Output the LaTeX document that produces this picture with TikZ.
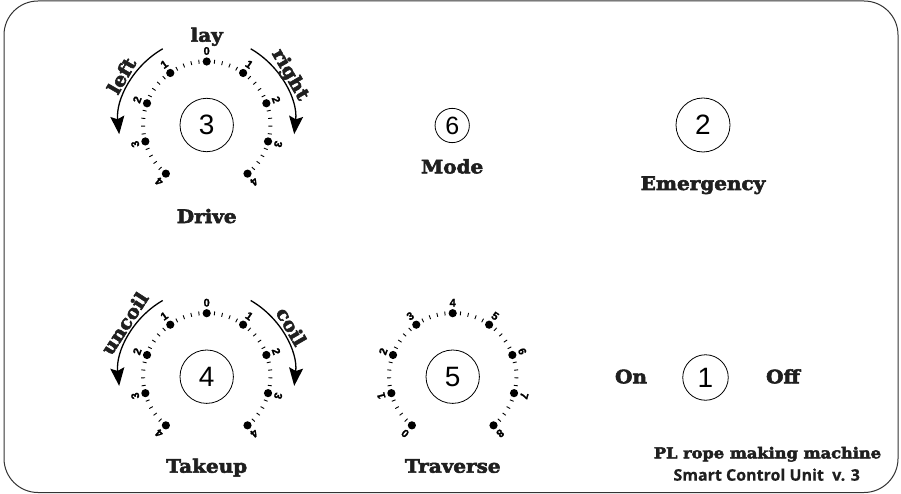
\documentclass[tikz,border=0pt]{standalone}
\usepackage{fontspec}
\setmainfont{DejaVu Serif}[FakeStretch=1.08, BoldFeatures={FakeBold=3}]
\newfontfamily\digitfont{Liberation Sans}
\newfontfamily\numfont{Liberation Sans}[BoldFeatures={FakeBold=1.5}]
\newfontfamily\tagfont{Open Sans}[BoldFeatures={FakeBold=0.5}]
\usetikzlibrary{arrows.meta}

\tikzset{
  frame/.style={draw=black!80, line width=1pt, rounded corners=34pt},
  knob/.style={draw, circle, line width=0.8pt, minimum size=53.4pt, inner sep=0pt,
    font=\digitfont\fontsize{28}{28}\selectfont},
  smallknob/.style={knob, minimum size=34.3pt, font=\digitfont\fontsize{25}{25}\selectfont},
  caption/.style={font=\bfseries\fontsize{18.5}{18.5}\selectfont, text=black!88, inner sep=0pt, anchor=base},
  scalenum/.style={font=\numfont\bfseries\fontsize{11}{11}\selectfont, inner sep=0pt},
  turn/.style={line width=1.3pt, -{Stealth[length=18pt,width=14pt,inset=3pt]}},
  tick/.style={line width=0.9pt},
}

% dial scale: nine dots 35 degrees apart, minor ticks every 7 degrees,
% numbers around the outside; #1 = name prefix, #2 = list of numbers
\newcommand{\dialscale}[2]{%
  \foreach \k in {0,...,40}{%
    \pgfmathtruncatemacro\r{mod(\k,5)}%
    \pgfmathsetmacro\a{230-7*\k}%
    \ifnum\r=0
      \fill (\a:63.5) circle (4.1pt);
    \else
      \draw[tick] (\a:61.7) -- (\a:65.7);
    \fi
  }%
  \foreach \lab [count=\i from 0] in {#2}{%
    \pgfmathsetmacro\a{230-35*\i}%
    \node[scalenum, rotate=\a-90] (#1-\i) at (\a:74) {\lab};
  }%
}

\begin{document}
\begin{tikzpicture}[x=1pt, y=1pt]
  \useasboundingbox (0,0) rectangle (901,-494);
  \fill[white] (0,0) rectangle (901,-494);
  \draw[frame] (4,-1) rectangle (898,-492.5);

  % Drive dial
  \begin{scope}[shift={(206.7,-125)}]
    \node[knob] (drive) at (0,0) {3};
    \dialscale{drv}{4,3,2,1,0,1,2,3,4}
    \draw[turn] (120:88) arc[start angle=120, end angle=186, radius=88];
    \draw[turn] (60:88) arc[start angle=60, end angle=-6, radius=88];
    \node[caption, anchor=center, rotate=60] (left) at (150:98.5) {left};
    \node[caption, anchor=center, rotate=-60] (right) at (31:97) {right};
  \end{scope}
  \node[caption] (lay) at (206.7,-41.7) {lay};
  \node[caption] (drivelbl) at (206.7,-223) {Drive};

  % Takeup dial
  \begin{scope}[shift={(206.7,-376.7)}]
    \node[knob] (takeup) at (0,0) {4};
    \dialscale{tak}{4,3,2,1,0,1,2,3,4}
    \draw[turn] (120:88) arc[start angle=120, end angle=186, radius=88];
    \draw[turn] (60:88) arc[start angle=60, end angle=-6, radius=88];
    \node[caption, anchor=center, rotate=57] (uncoil) at (147:98) {uncoil};
    \node[caption, anchor=center, rotate=-60] (coil) at (30.6:98.5) {coil};
  \end{scope}
  \node[caption] (takeuplbl) at (206.7,-472.7) {Takeup};

  % Traverse dial
  \begin{scope}[shift={(452.7,-376.7)}]
    \node[knob] (traverse) at (0,0) {5};
    \dialscale{trv}{0,1,2,3,4,5,6,7,8}
  \end{scope}
  \node[caption] (traverselbl) at (452.7,-472.7) {Traverse};

  % Mode selector
  \node[smallknob] (mode) at (452.2,-125.5) {6};
  \node[caption] (modelbl) at (452.2,-173.3) {Mode};

  % Emergency stop
  \node[knob, minimum size=54pt] (emergency) at (703,-125) {2};
  \node[caption] (emergencylbl) at (703,-190) {Emergency};

  % Main switch
  \node[knob, minimum size=45.5pt] (power) at (705.5,-377.5) {1};
  \node[caption] (on) at (631,-383.3) {On};
  \node[caption] (off) at (783,-383.3) {Off};

  % Maker's plate
  \node[caption, font=\bfseries\fontsize{15}{15}\selectfont] (maker) at (767.5,-458.3) {PL rope making machine};
  \node[caption, font=\tagfont\bfseries\fontsize{16}{16}\selectfont] (unit) at (766.7,-480.7) {Smart Control Unit\ \ v. 3};
\end{tikzpicture}
\end{document}
